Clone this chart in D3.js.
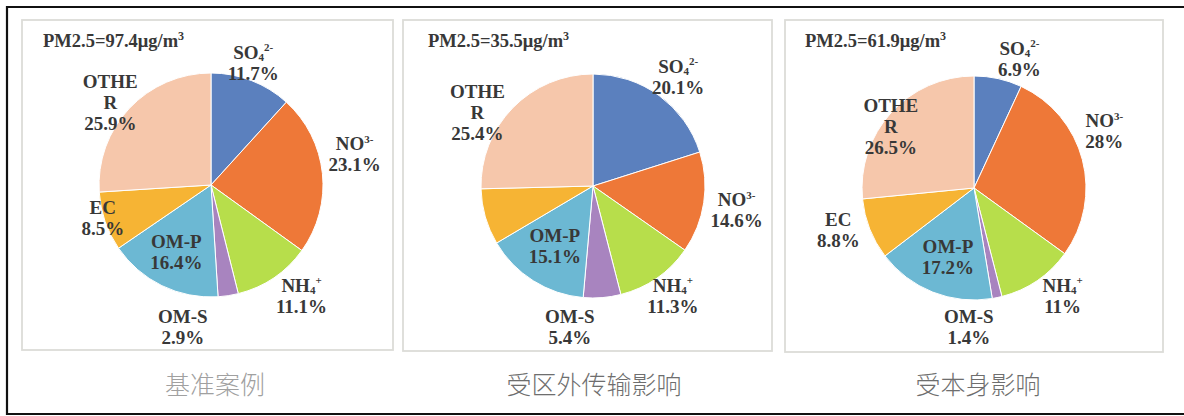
<!DOCTYPE html>
<html>
<head>
<meta charset="utf-8">
<script src="https://cdn.jsdelivr.net/npm/d3@7"></script>
<style>
  html, body { margin: 0; padding: 0; background: #ffffff; }
  svg { display: block; }
</style>
</head>
<body>
<svg id="chart" width="1184" height="416"></svg>
<script>
// ---------- data ----------
const categories = ["SO4", "NO3", "NH4", "OM-S", "OM-P", "EC", "OTHER"];
const valuesBase = [11.7, 23.1, 11.1, 2.9, 16.4, 8.5, 25.9];
const valuesTransport = [20.1, 14.6, 11.3, 5.4, 15.1, 8.1, 25.4];
const valuesLocal = [6.9, 28, 11, 1.4, 17.2, 8.8, 26.5];
const pm25Totals = ["97.4", "35.5", "61.9"];
const captions = ["基准案例", "受区外传输影响", "受本身影响"];
const showLabels = [
  [true, true, true, true, true, true, true],
  [true, true, true, true, true, false, true],
  [true, true, true, true, true, true, true]
];

// ---------- style / layout ----------
const colors = ["#5b80be", "#ee7838", "#b7de4b", "#a884bf", "#6cb8d3", "#f6b434", "#f6c7ab"];
const panelBoxes = [
  { x: 22, y: 20, w: 371, h: 330 },
  { x: 403, y: 20, w: 369, h: 331 },
  { x: 785, y: 20, w: 378, h: 332 }
];
const pieCenters = [[211, 185], [593, 186], [974, 188]];
const pieRadius = 112;
const titleX = [43, 428, 805];
const captionX = [215, 594, 978];
// label radius factor and angular offset (deg) per slice, per panel
const labelK = [
  [1.15, 1.31, 1.28, 1.30, 0.68, 1.01, 1.16],
  [1.23, 1.30, 1.22, 1.28, 0.64, 1.2, 1.22],
  [1.22, 1.27, 1.25, 1.25, 0.66, 1.27, 0.92]
];
const labelOff = [
  [-2, -6, -5, 20, 1, 2, -4],
  [2, 1, -1, 14, 0, 0, -12],
  [7, -9, -5, 14, -1, 4, -6]
];

const svg = d3.select("#chart");
const serif = "'Liberation Serif', 'Times New Roman', serif";
const textColor = "#383838";

// outer frame (top, left, bottom only; right edge cut off)
svg.append("path")
  .attr("d", "M1184,7 H7 V414 H1184")
  .attr("fill", "none").attr("stroke", "#111").attr("stroke-width", 2.2);

const allValues = [valuesBase, valuesTransport, valuesLocal];
const pie = d3.pie().sort(null).value(d => d).startAngle(0).endAngle(2 * Math.PI);
const arc = d3.arc().innerRadius(0).outerRadius(pieRadius);

function labelLines(cat, pct) {
  if (cat === "SO4") return [[["SO", 0, 19], ["4", 2, 11], ["2-", -8, 11]], [[pct, 0, 19]]];
  if (cat === "NO3") return [[["NO", 0, 19], ["3-", -7, 11]], [[pct, 0, 19]]];
  if (cat === "NH4") return [[["NH", 0, 19], ["4", 2, 11], ["+", -8, 11]], [[pct, 0, 19]]];
  if (cat === "OTHER") return [[["OTHE", 0, 19]], [["R", 0, 19]], [[pct, 0, 19]]];
  return [[[cat, 0, 19]], [[pct, 0, 19]]];
}

allValues.forEach((vals, p) => {
  const box = panelBoxes[p];
  const g = svg.append("g");
  g.append("rect")
    .attr("x", box.x).attr("y", box.y).attr("width", box.w).attr("height", box.h)
    .attr("fill", "#fff").attr("stroke", "#dcdcd8").attr("stroke-width", 1.8);

  const [cx, cy] = pieCenters[p];
  const pg = g.append("g").attr("transform", `translate(${cx},${cy})`);
  const arcs = pie(vals);
  pg.selectAll("path").data(arcs).join("path")
    .attr("d", arc)
    .attr("fill", (d, i) => colors[i])
    .attr("stroke", "#ffffff").attr("stroke-width", 1);

  // title
  const t = g.append("text")
    .attr("x", titleX[p]).attr("y", 47)
    .attr("font-family", serif).attr("font-weight", "bold").attr("font-size", 18.5)
    .attr("fill", textColor);
  t.append("tspan").text(`PM2.5=${pm25Totals[p]}μg/m`);
  t.append("tspan").attr("dy", -7).attr("font-size", 12).text("3");

  // labels
  arcs.forEach((a, i) => {
    if (!showLabels[p][i]) return;
    const ang = (a.startAngle + a.endAngle) / 2 + labelOff[p][i] * Math.PI / 180;
    const k = labelK[p][i];
    const lx = cx + k * pieRadius * Math.sin(ang);
    const ly = cy - k * pieRadius * Math.cos(ang);
    const lines = labelLines(categories[i], vals[i] + "%");
    const n = lines.length;
    const lineH = 21;
    const y0 = ly - (n - 1) * lineH / 2 + 6;
    lines.forEach((parts, li) => {
      const tx = g.append("text")
        .attr("x", lx).attr("y", y0 + li * lineH)
        .attr("text-anchor", "middle")
        .attr("font-family", serif).attr("font-weight", "bold").attr("font-size", 19)
        .attr("fill", textColor);
      let cur = 0;
      parts.forEach(([s, shift, fs]) => {
        tx.append("tspan").attr("dy", shift - cur).attr("font-size", fs).text(s);
        cur = shift;
      });
    });
  });

  // caption
  svg.append("text")
    .attr("x", captionX[p]).attr("y", 394)
    .attr("text-anchor", "middle")
    .attr("font-family", "'Noto Sans CJK SC', sans-serif")
    .attr("font-weight", 300)
    .attr("font-size", 25)
    .attr("fill", p === 0 ? "#a0a0a0" : "#6e6e6e")
    .text(captions[p]);
});
</script>
</body>
</html>
